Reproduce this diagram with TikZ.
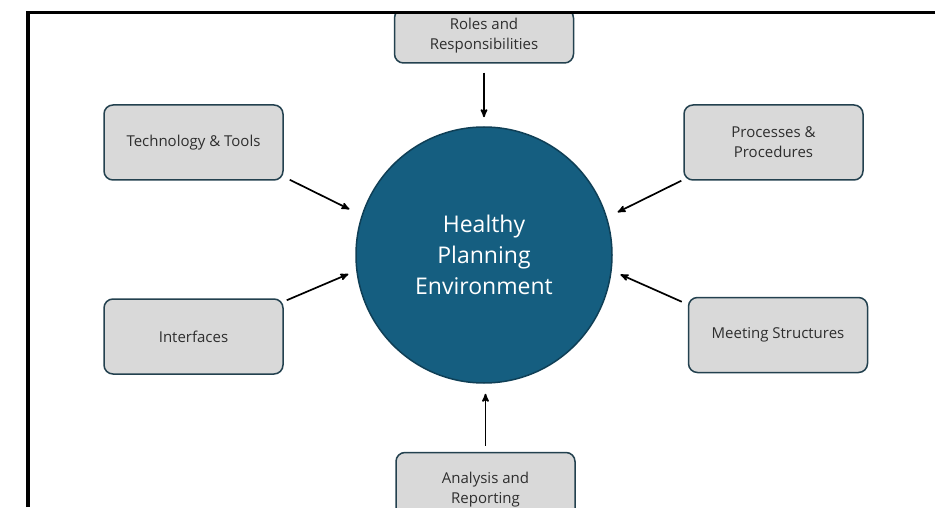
\documentclass[tikz,border=0pt]{standalone}
\usepackage{fontspec}
\setmainfont{Open Sans}
\usetikzlibrary{arrows}
\definecolor{hubblue}{HTML}{155E80}
\definecolor{hubedge}{HTML}{0F3F56}
\definecolor{boxedge}{HTML}{23414F}
\definecolor{boxfill}{HTML}{D9D9D9}
\definecolor{boxtext}{HTML}{2E2E2E}

\begin{document}
\begin{tikzpicture}[x=1pt,y=1pt,->,>=stealth',line width=1.7pt,
        topic/.style={draw=boxedge,fill=boxfill,rounded corners=9pt,line width=1.5pt,
          minimum width=179pt,minimum height=75pt,align=center,text=boxtext,
          font=\fontsize{15}{20}\selectfont},
        hub/.style={circle,draw=hubedge,fill=hubblue,line width=1.5pt,minimum size=256pt,
          align=center,text=white,font=\fontsize{23}{31}\selectfont}]

  \useasboundingbox (0,0) rectangle (935,507);

  \begin{scope}
    \clip (28,0) rectangle (935,494.5);

    \node[hub] (env) at (484,252) {Healthy\\Planning\\Environment};
    \node[topic,minimum height=54pt] (roles) at (484,471) {Roles and\\Responsibilities};
    \node[topic] (tech) at (193.5,364.5) {Technology \& Tools};
    \node[topic] (proc) at (773.5,364.5) {Processes \&\\Procedures};
    \node[topic] (iface) at (193.5,170.5) {Interfaces};
    \node[topic] (meet) at (778,172) {Meeting Structures};
    \node[topic] (ana) at (485.5,17) {Analysis and\\Reporting};

    \path (roles) edge [shorten <=9pt,shorten >=9pt] (env)
          ([xshift=6pt,yshift=1pt]tech.south east) edge [shorten >=13.5pt] (env.162.8)
          ([xshift=-2pt]proc.south west) edge [shorten >=11.7pt] (env.17.4)
          ([xshift=3pt,yshift=-2pt]iface.north east) edge [shorten >=8.5pt] (env.187.5)
          ([xshift=-6pt,yshift=-5pt]meet.north west) edge [shorten >=9.5pt] (env.-7.9)
          (ana.north) edge [shorten <=6pt,shorten >=10pt] (ana.north |- env.south);
  \end{scope}

  % frame of the screenshot
  \draw[-,line width=3.5pt] (28,0) -- (28,494.5) -- (935,494.5);

\end{tikzpicture}
\end{document}
